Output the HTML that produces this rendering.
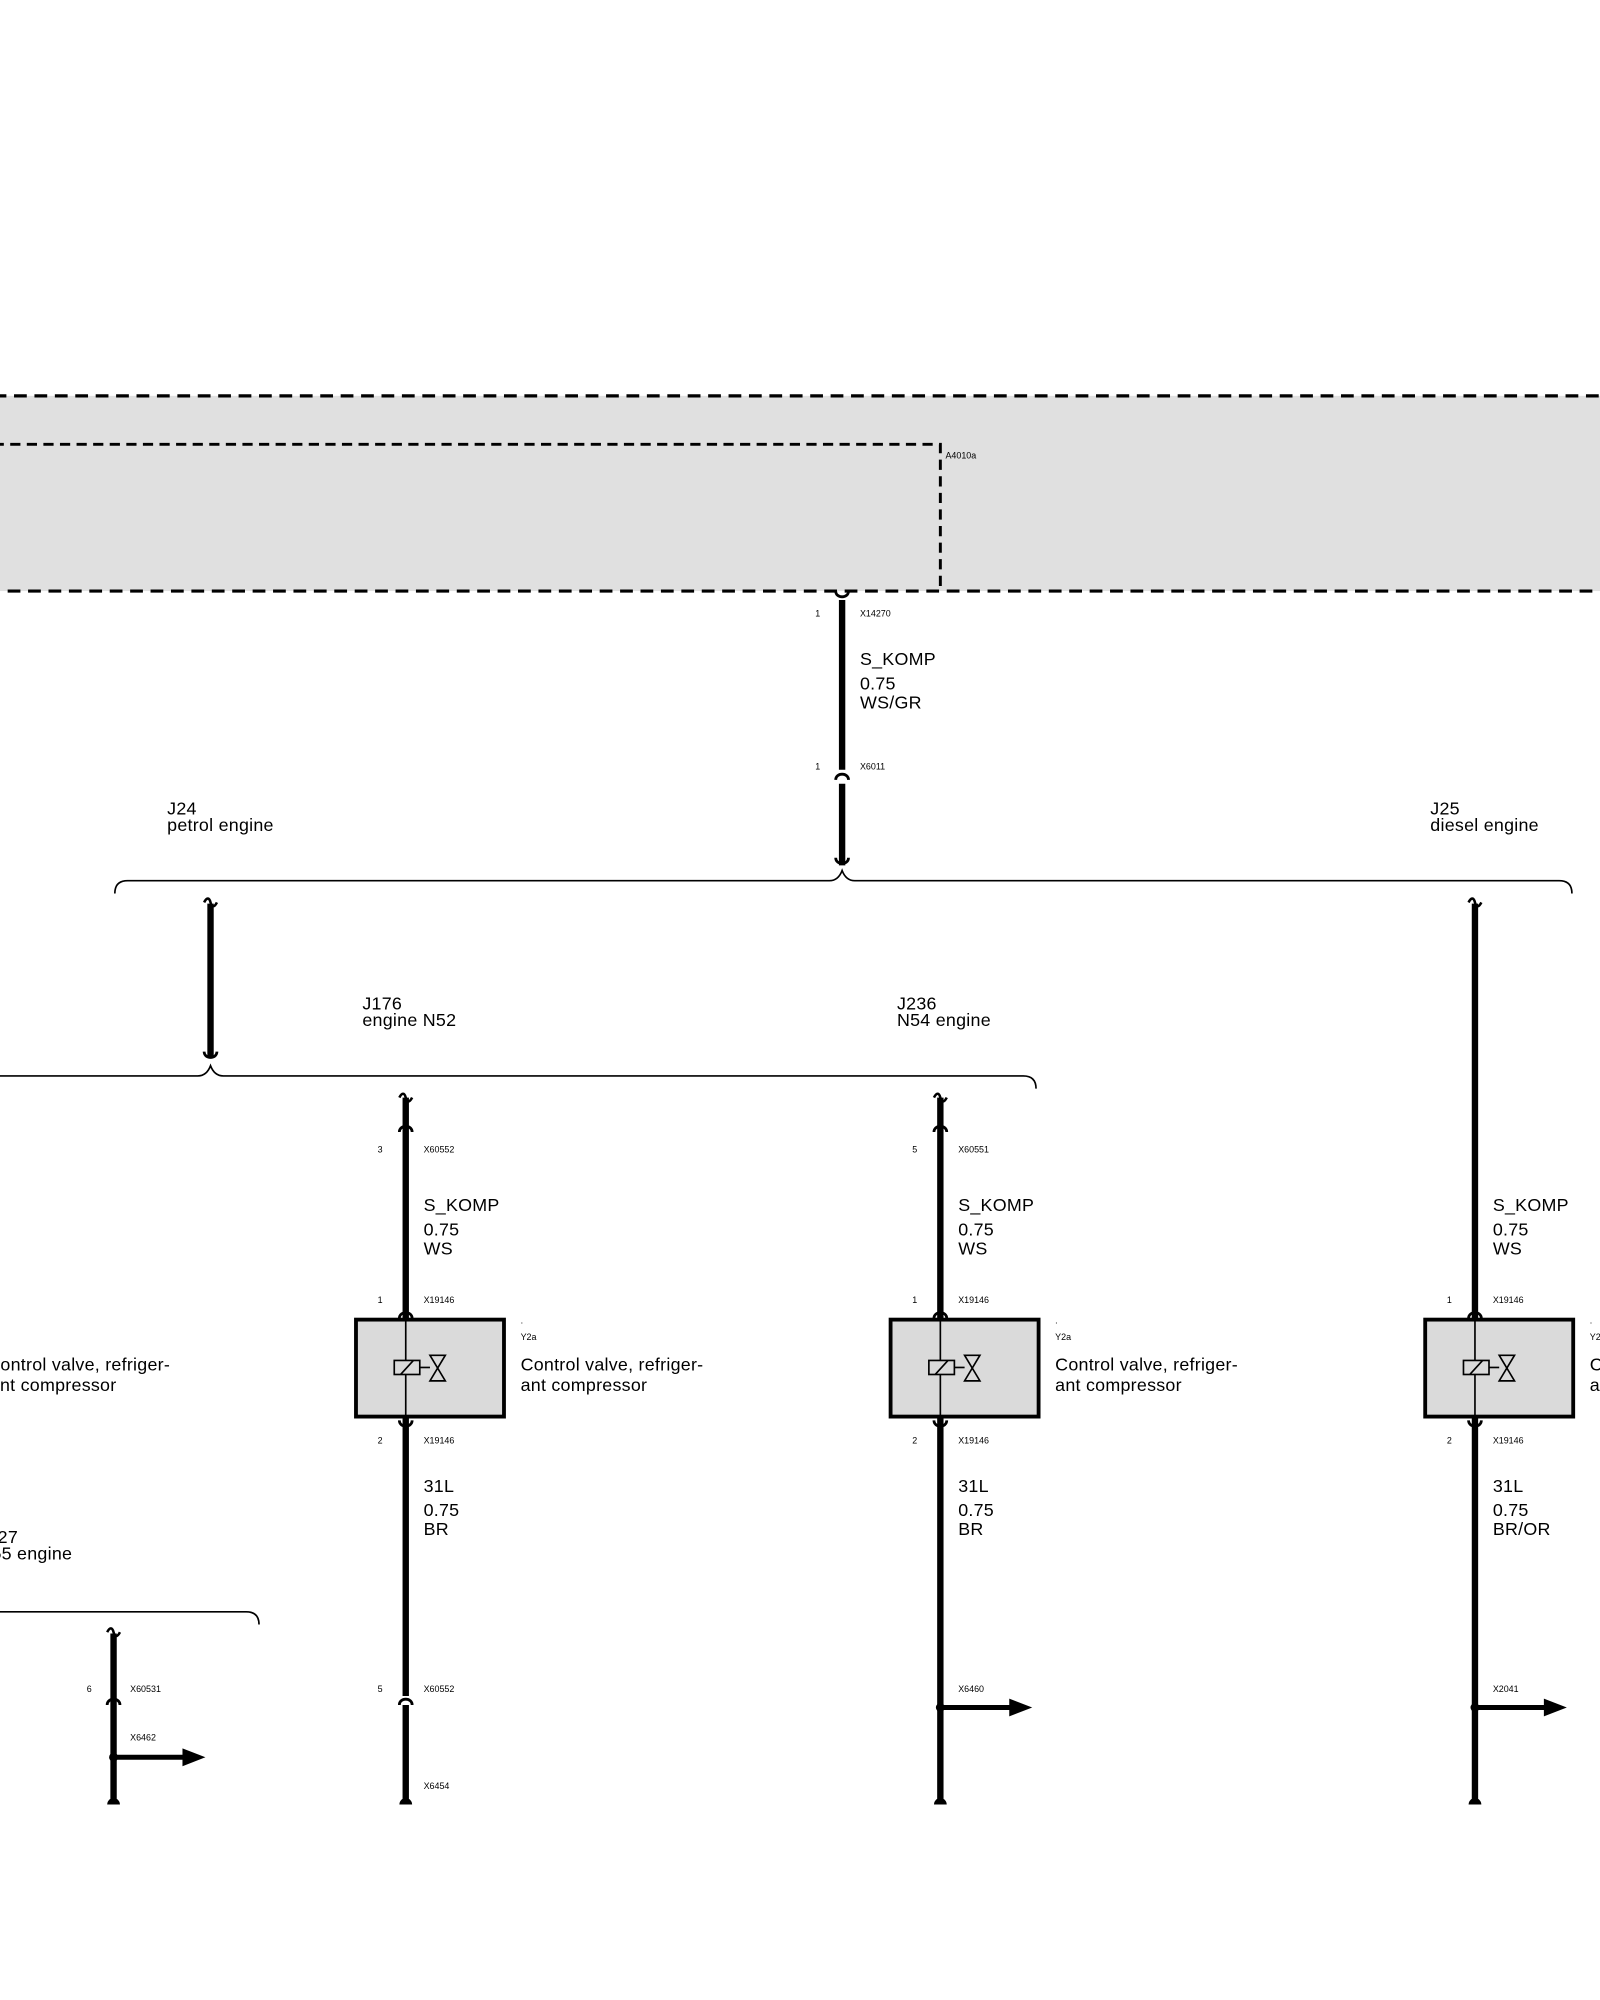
<!DOCTYPE html>
<html><head><meta charset="utf-8"><style>
html,body{margin:0;padding:0;background:#fff;}
svg{display:block;}
text{font-family:"Liberation Sans",Arial,sans-serif;fill:#000;}
.s{font-size:7px}.m{font-size:14px;letter-spacing:0.2px}
</style></head><body>
<svg width="1600" height="2000" viewBox="0 0 1254 1567" xmlns="http://www.w3.org/2000/svg">
<defs>
<g id="comp">
<rect x="-39" y="1034" width="116" height="76" fill="#dadada" stroke="#000" stroke-width="3"/>
<line x1="0" y1="1024" x2="0" y2="1118" stroke="#000" stroke-width="1.3"/>
<rect x="-9" y="1066" width="20" height="11" fill="#dadada" stroke="#000" stroke-width="1.3"/>
<line x1="-4" y1="1077" x2="6" y2="1066" stroke="#000" stroke-width="1.3"/>
<line x1="11" y1="1071.5" x2="19" y2="1071.5" stroke="#000" stroke-width="1.3"/>
<path d="M19,1062 L31,1062 L19,1082 L31,1082 Z" fill="none" stroke="#000" stroke-width="1.3"/>
</g>
<path id="up" d="M-5,3 C-5,-3 5,-3 5,3" fill="none" stroke="#000" stroke-width="2.2"/>
<path id="dn" d="M-5,-3 C-5,3 5,3 5,-3" fill="none" stroke="#000" stroke-width="2.2"/>
<path id="cap" d="M-5,4 A5 5 0 0 1 5,4 Z" fill="#000"/>
<path id="sq" d="M-5,0 C-3,-4 -1,-4 0,0 C1,4 3,4 5,0" fill="none" stroke="#000" stroke-width="2"/>
<g id="arr"><line x1="0" y1="0" x2="56" y2="0" stroke="#000" stroke-width="4"/><polygon points="54,-7 72,0 54,7" fill="#000"/><circle cx="0" cy="0" r="3.5" fill="#000"/></g>
</defs>

<rect x="-5" y="310" width="1270" height="153" fill="#e0e0e0" stroke="#000" stroke-width="2.5" stroke-dasharray="10,6"/>
<path d="M-5,348 L737,348 L737,463" fill="none" stroke="#000" stroke-width="2.3" stroke-dasharray="8,5"/>
<text class="s" x="741" y="359">A4010a</text>

<line x1="660" y1="470" x2="660" y2="603" stroke="#000" stroke-width="5"/>
<line x1="660" y1="614" x2="660" y2="678" stroke="#000" stroke-width="5"/>
<use href="#dn" x="660" y="466"/>
<use href="#up" x="660" y="608"/>
<use href="#dn" x="660" y="675"/>
<text class="s" x="639" y="483">1</text><text class="s" x="674" y="483">X14270</text>
<text class="m" x="674" y="521">S_KOMP</text><text class="m" x="674" y="540">0.75</text><text class="m" x="674" y="555">WS/GR</text>
<text class="s" x="639" y="603">1</text><text class="s" x="674" y="603">X6011</text>

<path d="M90,700 Q90,690 100,690 L650,690 Q657,690 660,682 Q663,690 670,690 L1222,690 Q1232,690 1232,700" fill="none" stroke="#000" stroke-width="1.3"/>
<text class="m" x="131" y="638">J24</text><text class="m" x="131" y="651">petrol engine</text>
<text class="m" x="1121" y="638">J25</text><text class="m" x="1121" y="651">diesel engine</text>

<line x1="165" y1="708" x2="165" y2="828" stroke="#000" stroke-width="5"/>
<use href="#sq" x="165" y="707"/><use href="#dn" x="165" y="827"/>
<path d="M-5,843 L155,843 Q162,843 165,835 Q168,843 175,843 L802,843 Q812,843 812,853" fill="none" stroke="#000" stroke-width="1.3"/>
<text class="m" x="284" y="791">J176</text><text class="m" x="284" y="804">engine N52</text>
<text class="m" x="703" y="791">J236</text><text class="m" x="703" y="804">N54 engine</text>

<g stroke="#000" stroke-width="5">
<line x1="318" y1="860" x2="318" y2="1329"/><line x1="318" y1="1336" x2="318" y2="1412"/>
<line x1="737" y1="860" x2="737" y2="1412"/>
<line x1="1156" y1="708" x2="1156" y2="1412"/>
<line x1="89" y1="1280" x2="89" y2="1412"/>
</g>
<use href="#sq" x="318" y="860"/><use href="#sq" x="737" y="860"/><use href="#sq" x="1156" y="707"/><use href="#sq" x="89" y="1279"/>
<use href="#up" x="318" y="884"/><use href="#up" x="737" y="884"/>
<use href="#comp" x="318"/><use href="#comp" x="737"/><use href="#comp" x="1156"/>
<use href="#up" x="318" y="1030"/><use href="#up" x="737" y="1030"/><use href="#up" x="1156" y="1030"/>
<use href="#dn" x="318" y="1116"/><use href="#dn" x="737" y="1116"/><use href="#dn" x="1156" y="1116"/>
<use href="#up" x="318" y="1333"/><use href="#up" x="89" y="1333"/>
<use href="#cap" x="318" y="1410"/><use href="#cap" x="737" y="1410"/><use href="#cap" x="1156" y="1410"/><use href="#cap" x="89" y="1410"/>
<use href="#arr" x="737" y="1338"/><use href="#arr" x="1156" y="1338"/><use href="#arr" x="89" y="1377"/>

<text class="s" x="296" y="903">3</text><text class="s" x="332" y="903">X60552</text>
<text class="m" x="332" y="949">S_KOMP</text><text class="m" x="332" y="968">0.75</text><text class="m" x="332" y="983">WS</text>
<text class="s" x="296" y="1021">1</text><text class="s" x="332" y="1021">X19146</text>
<text class="s" x="408" y="1037">.</text><text class="s" x="408" y="1050">Y2a</text>
<text class="m" x="408" y="1074">Control valve, refriger-</text><text class="m" x="408" y="1090">ant compressor</text>
<text class="s" x="296" y="1131">2</text><text class="s" x="332" y="1131">X19146</text>
<text class="m" x="332" y="1169">31L</text><text class="m" x="332" y="1188">0.75</text><text class="m" x="332" y="1203">BR</text>
<text class="s" x="296" y="1326">5</text><text class="s" x="332" y="1326">X60552</text>
<text class="s" x="332" y="1402">X6454</text>

<text class="s" x="715" y="903">5</text><text class="s" x="751" y="903">X60551</text>
<text class="m" x="751" y="949">S_KOMP</text><text class="m" x="751" y="968">0.75</text><text class="m" x="751" y="983">WS</text>
<text class="s" x="715" y="1021">1</text><text class="s" x="751" y="1021">X19146</text>
<text class="s" x="827" y="1037">.</text><text class="s" x="827" y="1050">Y2a</text>
<text class="m" x="827" y="1074">Control valve, refriger-</text><text class="m" x="827" y="1090">ant compressor</text>
<text class="s" x="715" y="1131">2</text><text class="s" x="751" y="1131">X19146</text>
<text class="m" x="751" y="1169">31L</text><text class="m" x="751" y="1188">0.75</text><text class="m" x="751" y="1203">BR</text>
<text class="s" x="751" y="1326">X6460</text>

<text class="m" x="1170" y="949">S_KOMP</text><text class="m" x="1170" y="968">0.75</text><text class="m" x="1170" y="983">WS</text>
<text class="s" x="1134" y="1021">1</text><text class="s" x="1170" y="1021">X19146</text>
<text class="s" x="1246" y="1037">.</text><text class="s" x="1246" y="1050">Y2a</text>
<text class="m" x="1246" y="1074">Control valve, refriger-</text><text class="m" x="1246" y="1090">ant compressor</text>
<text class="s" x="1134" y="1131">2</text><text class="s" x="1170" y="1131">X19146</text>
<text class="m" x="1170" y="1169">31L</text><text class="m" x="1170" y="1188">0.75</text><text class="m" x="1170" y="1203">BR/OR</text>
<text class="s" x="1170" y="1326">X2041</text>

<text class="s" x="-14" y="1050">Y2a</text>
<text class="m" x="-10" y="1074">Control valve, refriger-</text><text class="m" x="-8" y="1090">ant compressor</text>
<text class="m" x="-17" y="1209">J227</text><text class="m" x="-17" y="1222">N55 engine</text>
<path d="M-5,1263 L193,1263 Q203,1263 203,1273" fill="none" stroke="#000" stroke-width="1.3"/>
<text class="s" x="68" y="1326">6</text><text class="s" x="102" y="1326">X60531</text>
<text class="s" x="102" y="1364">X6462</text>
</svg>
</body></html>
